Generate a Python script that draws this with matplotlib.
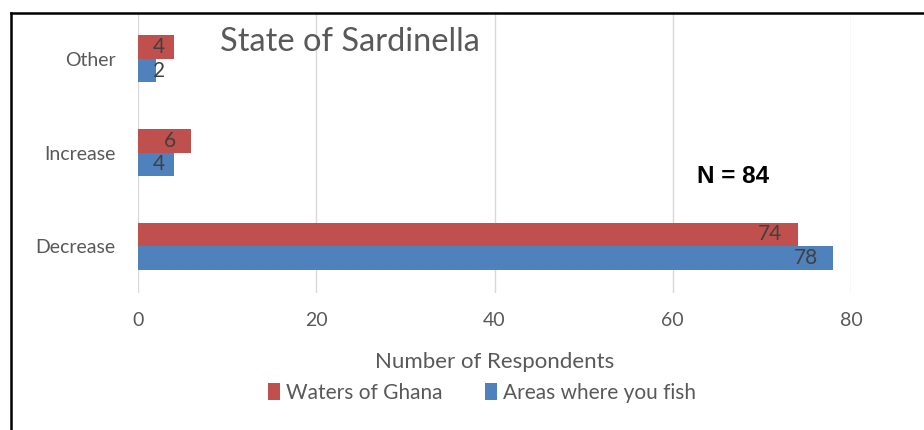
import matplotlib
matplotlib.use("Agg")
import matplotlib.pyplot as plt
import numpy as np

plt.rcParams['font.family'] = ['Lato', 'DejaVu Sans']

categories = ["Decrease", "Increase", "Other"]
waters_of_ghana = [74, 6, 4]
areas_where_you_fish = [78, 4, 2]
x_ticks = [0, 20, 40, 60, 80]

red = "#C0504D"
blue = "#4F81BD"
grey = "#595959"

fig = plt.figure(figsize=(9.24, 4.30), dpi=100)
ax = fig.add_axes([138 / 924, 1 - 293 / 430, (851 - 138) / 924, (293 - 12) / 430])

y = np.arange(len(categories))
h = 0.25
ax.barh(y + h / 2, waters_of_ghana, height=h, color=red, label="Waters of Ghana", zorder=3)
ax.barh(y - h / 2, areas_where_you_fish, height=h, color=blue, label="Areas where you fish", zorder=3)

# inside-end labels, kept from sliding left of the axis on short bars
for yi, v in zip(y, waters_of_ghana):
    ax.text(max(v - 1.7, 3.0), yi + h / 2, str(v), ha="right", va="center",
            fontsize=15, color="#404040", zorder=4)
for yi, v in zip(y, areas_where_you_fish):
    ax.text(max(v - 1.7, 3.0), yi - h / 2, str(v), ha="right", va="center",
            fontsize=15, color="#404040", zorder=4)

ax.set_xlim(0, 80)
ax.set_ylim(-0.5, 2.5)
ax.set_xticks(x_ticks)
ax.set_yticks(y)
ax.set_yticklabels(categories)
ax.tick_params(length=0, labelsize=14, colors=grey)
ax.tick_params(axis='y', pad=16)
ax.tick_params(axis='x', pad=14)
ax.grid(axis='x', color="#D9D9D9", linewidth=1, zorder=0)
for s in ax.spines.values():
    s.set_visible(False)

ax.set_xlabel("Number of Respondents", fontsize=16, color=grey, labelpad=16)

fig.text(350 / 924, 1 - 42 / 430, "State of Sardinella", fontsize=23.5,
         color=grey, ha="center", va="center")
ax.text(62.7, 0.74, "N = 84", fontsize=17.5, fontweight="bold", family="Liberation Sans",
        color="black", ha="left", va="center")

fig.legend(loc="center", bbox_to_anchor=(482 / 924, 1 - 393 / 430), ncol=2, frameon=False,
           fontsize=15, labelcolor=grey, handlelength=0.6, handleheight=0.9, handletextpad=0.3,
           columnspacing=2.0)

# outer frame (only the left and top edges fall inside the picture)
fig.add_artist(plt.Line2D([11 / 924, 11 / 924], [0, 1 - 13 / 430], transform=fig.transFigure,
                          color="black", linewidth=1.8))
fig.add_artist(plt.Line2D([11 / 924, 1], [1 - 13 / 430, 1 - 13 / 430], transform=fig.transFigure,
                          color="black", linewidth=1.8))

fig.savefig("out.png", dpi=100)
